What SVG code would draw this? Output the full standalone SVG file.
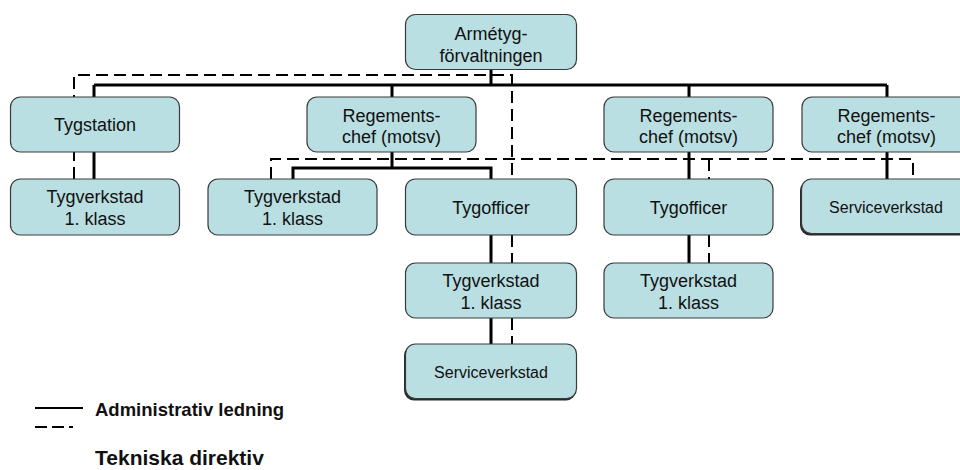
<svg xmlns="http://www.w3.org/2000/svg" width="960" height="470" viewBox="0 0 960 470">
<style>
.box{fill:#b9dfe2;stroke:#3a3a3a;stroke-width:1.2}
.shadow{fill:#2a2a2a}
.t{font-family:"Liberation Sans",Arial,sans-serif;font-size:18px;fill:#111;text-anchor:middle}
.ts{font-family:"Liberation Sans",Arial,sans-serif;font-size:16px;fill:#111;text-anchor:middle}
.lg{font-family:"Liberation Sans",Arial,sans-serif;font-size:18.5px;font-weight:bold;fill:#111}
.s{fill:none;stroke:#000;stroke-width:3}
.d{fill:none;stroke:#000;stroke-width:2;stroke-dasharray:12 6}
</style>
<rect width="960" height="470" fill="#fff"/>
<g id="connectors">
<path class="s" d="M491 69V85M94 85H887M94 85V97M392 85V97M689 85V97M887 85V97"/>
<path class="d" d="M74 179V75H512V179"/>
<path class="s" d="M94 152V179"/>
<path class="s" d="M392 152V168M293 179V168H491V179"/>
<path class="d" d="M271 179V159H913V179M709 159V179"/>
<path class="s" d="M689 152V179M887 152V179"/>
<path class="s" d="M491 235V263M689 235V263M491 318V344"/>
<path class="d" d="M512 235V263M709 235V263M512 318V344"/>
</g>
<g id="n-armetyg"><rect class="box" x="405.5" y="14.5" width="171" height="55" rx="10"/><text class="t" x="491" y="40">Armétyg-</text><text class="t" x="491" y="61.5">förvaltningen</text></g>
<g id="n-tygstation"><rect class="box" x="10.5" y="97" width="169" height="55" rx="10"/><text class="t" x="95" y="131">Tygstation</text></g>
<g id="n-reg1"><rect class="box" x="307" y="97" width="169" height="55" rx="10"/><text class="t" x="391.5" y="121.5">Regements-</text><text class="t" x="391.5" y="143">chef (motsv)</text></g>
<g id="n-reg2"><rect class="box" x="604" y="97" width="169" height="55" rx="10"/><text class="t" x="688.5" y="121.5">Regements-</text><text class="t" x="688.5" y="143">chef (motsv)</text></g>
<g id="n-reg3"><rect class="box" x="802" y="97" width="169" height="55" rx="10"/><text class="t" x="886.5" y="121.5">Regements-</text><text class="t" x="886.5" y="143">chef (motsv)</text></g>
<g id="n-tygverkstad-a"><rect class="box" x="10.5" y="179" width="169" height="56" rx="10"/><text class="t" x="95" y="203">Tygverkstad</text><text class="t" x="95" y="224.5">1. klass</text></g>
<g id="n-tygverkstad-b"><rect class="box" x="208" y="179" width="169" height="56" rx="10"/><text class="t" x="292.5" y="203">Tygverkstad</text><text class="t" x="292.5" y="224.5">1. klass</text></g>
<g id="n-tygofficer-1"><rect class="box" x="405.5" y="179" width="171" height="56" rx="10"/><text class="t" x="491" y="213.5">Tygofficer</text></g>
<g id="n-tygofficer-2"><rect class="box" x="604" y="179" width="169" height="56" rx="10"/><text class="t" x="688.5" y="213.5">Tygofficer</text></g>
<g id="n-service-r"><rect class="shadow" x="800" y="180.5" width="171" height="55" rx="10"/><rect class="box" x="801.5" y="179" width="169" height="54.5" rx="10"/><text class="ts" x="886" y="212.5">Serviceverkstad</text></g>
<g id="n-tygverkstad-c"><rect class="box" x="405.5" y="263" width="171" height="55" rx="10"/><text class="t" x="491" y="287">Tygverkstad</text><text class="t" x="491" y="308.5">1. klass</text></g>
<g id="n-tygverkstad-d"><rect class="box" x="604" y="263" width="169" height="55" rx="10"/><text class="t" x="688.5" y="287">Tygverkstad</text><text class="t" x="688.5" y="308.5">1. klass</text></g>
<g id="n-service-b"><rect class="shadow" x="404" y="345.5" width="172" height="55" rx="10"/><rect class="box" x="405.5" y="344" width="171" height="54.5" rx="10"/><text class="ts" x="491" y="378">Serviceverkstad</text></g>
<g id="legend">
<line x1="35" y1="408" x2="83" y2="408" stroke="#000" stroke-width="2"/>
<text class="lg" x="95" y="416">Administrativ ledning</text>
<line x1="35" y1="427" x2="73" y2="427" stroke="#000" stroke-width="2" stroke-dasharray="12 5"/>
<text class="lg" x="95" y="465" style="font-size:21px">Tekniska direktiv</text>
</g>
</svg>
